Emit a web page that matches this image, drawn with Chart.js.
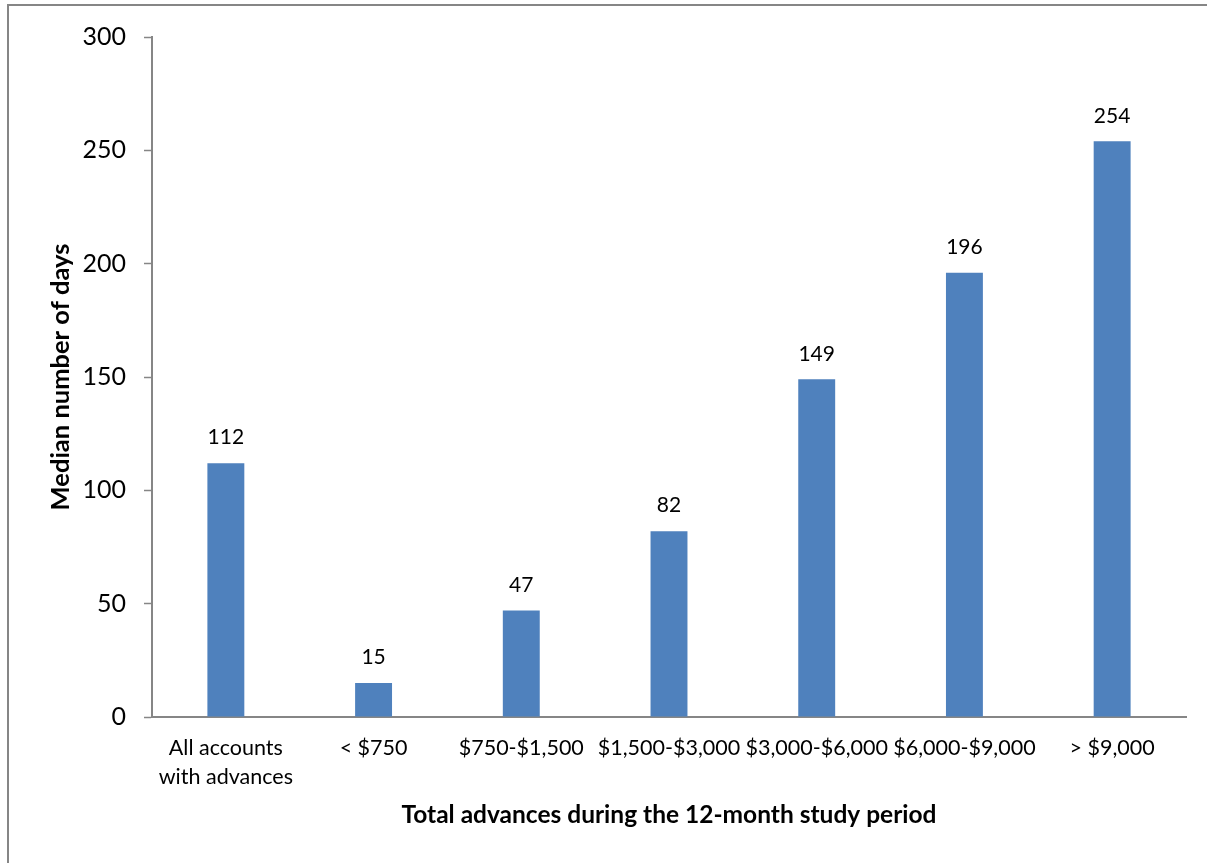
<!DOCTYPE html>
<html>
<head>
<meta charset="utf-8">
<script src="https://cdn.jsdelivr.net/npm/chart.js@4/dist/chart.umd.min.js"></script>
<style>
  html, body { margin: 0; padding: 0; background: #fff; overflow: hidden; }
  #frame {
    position: absolute; left: 7px; top: 4px; width: 1300px; height: 1000px;
    border: 2px solid #868686; box-sizing: border-box;
  }
  #wrap { position: absolute; left: 0; top: 0; width: 1207px; height: 863px; }
</style>
</head>
<body>
<div id="frame"></div>
<div id="wrap"><canvas id="chart" width="1207" height="863"></canvas></div>
<script>
const categories = [
  ['All accounts', 'with advances'],
  '< $750',
  '$750-$1,500',
  '$1,500-$3,000',
  '$3,000-$6,000',
  '$6,000-$9,000',
  '> $9,000'
];
const medianDays = [112, 15, 47, 82, 149, 196, 254];
const yTicks = [0, 50, 100, 150, 200, 250, 300];

const axisColor = '#868686';
const barColor = '#4F81BD';
const fontFamily = 'Lato, "Noto Sans", sans-serif';

// value labels above each bar
const valueLabels = {
  id: 'valueLabels',
  afterDatasetsDraw(chart) {
    const { ctx } = chart;
    const meta = chart.getDatasetMeta(0);
    ctx.save();
    ctx.font = '21px ' + fontFamily;
    ctx.fillStyle = '#000';
    ctx.textAlign = 'center';
    ctx.textBaseline = 'bottom';
    meta.data.forEach((bar, i) => {
      ctx.fillText(String(medianDays[i]), bar.x, bar.y - 15);
    });
    ctx.restore();
  }
};

new Chart(document.getElementById('chart'), {
  type: 'bar',
  data: {
    labels: categories,
    datasets: [{
      data: medianDays,
      backgroundColor: barColor,
      borderWidth: 0,
      categoryPercentage: 1,
      barPercentage: 0.25
    }]
  },
  options: {
    responsive: false,
    animation: false,
    layout: { padding: { top: 37, right: 21, left: 0, bottom: 0 } },
    plugins: { legend: { display: false }, tooltip: { enabled: false } },
    scales: {
      x: {
        afterFit: s => { s.height = 146; },
        grid: { display: true, drawOnChartArea: false, drawTicks: false },
        border: { color: axisColor, width: 2 },
        ticks: {
          autoSkip: false, maxRotation: 0, minRotation: 0, padding: 16,
          color: '#000',
          font: { family: fontFamily, size: 21.5, lineHeight: 1.38 }
        },
        title: {
          display: true,
          text: 'Total advances during the 12-month study period',
          color: '#000',
          font: { family: fontFamily, size: 24.5, weight: 'bold', lineHeight: 1.2 },
          padding: { top: 0, bottom: 33 }
        }
      },
      y: {
        min: 0, max: 300,
        afterFit: s => { s.width = 152; },
        afterBuildTicks: s => { s.ticks = yTicks.map(v => ({ value: v })); },
        grid: { drawOnChartArea: false, drawTicks: true, tickLength: 8, color: axisColor, tickWidth: 1.5 },
        border: { color: axisColor, width: 2 },
        ticks: {
          padding: 18, color: '#000',
          font: { family: fontFamily, size: 25 }
        },
        title: {
          display: true,
          text: 'Median number of days',
          color: '#000',
          font: { family: fontFamily, size: 25.5, weight: 'bold', lineHeight: 1.2 },
          padding: { top: 45, bottom: 0 }
        }
      }
    }
  },
  plugins: [valueLabels]
});
</script>
</body>
</html>
